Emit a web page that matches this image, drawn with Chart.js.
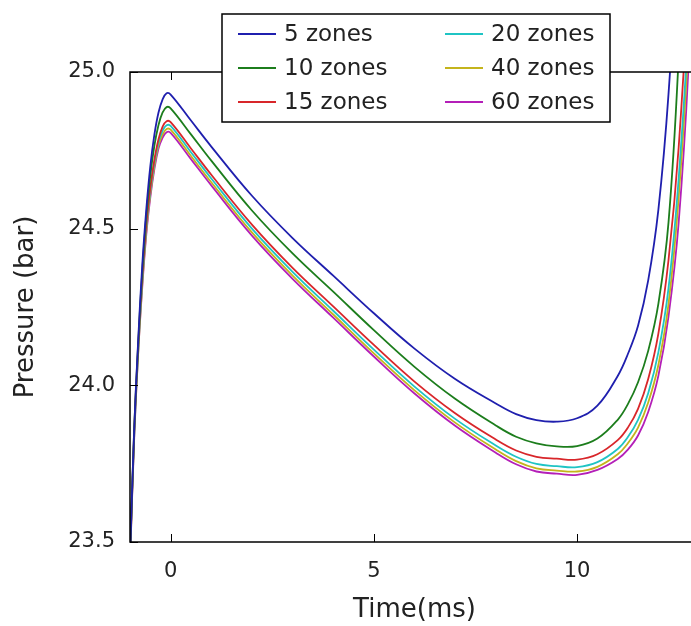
<!DOCTYPE html>
<html>
<head>
<meta charset="utf-8">
<script src="https://cdn.jsdelivr.net/npm/chart.js@4.4.1/dist/chart.umd.min.js"></script>
<style>
  html, body { margin: 0; padding: 0; background: #fff; overflow: hidden; }
  #myChart { display: block; }
</style>
</head>
<body>
<canvas id="myChart" width="700" height="626"></canvas>
<script>
// time in ms, shared by all series
const times = [-1, -0.9, -0.8, -0.7, -0.6, -0.5, -0.4, -0.3, -0.2, -0.1, 0, 0.5, 1, 2, 3, 4, 5, 6, 7, 8, 8.5, 9, 9.5, 10, 10.5, 11, 11.25, 11.5, 11.75, 12, 12.25, 12.5, 12.75, 13];

const zones5  = [23.45, 23.85, 24.14, 24.38, 24.56, 24.70, 24.80, 24.87, 24.912, 24.932, 24.928, 24.845, 24.762, 24.605, 24.47, 24.35, 24.23, 24.117, 24.02, 23.942, 23.908, 23.889, 23.884, 23.895, 23.935, 24.03, 24.10, 24.19, 24.335, 24.56, 24.93, 25.5, 26.4, 27.8];
const zones10 = [23.45, 23.85, 24.13, 24.36, 24.54, 24.67, 24.765, 24.83, 24.87, 24.888, 24.884, 24.801, 24.717, 24.558, 24.421, 24.299, 24.176, 24.059, 23.957, 23.872, 23.836, 23.815, 23.805, 23.806, 23.83, 23.89, 23.94, 24.01, 24.11, 24.26, 24.52, 25.05, 25.9, 27.2];
const zones15 = [23.44, 23.84, 24.12, 24.34, 24.51, 24.63, 24.72, 24.785, 24.825, 24.843, 24.84, 24.756, 24.672, 24.513, 24.375, 24.252, 24.129, 24.012, 23.911, 23.827, 23.792, 23.772, 23.766, 23.763, 23.78, 23.825, 23.865, 23.925, 24.02, 24.165, 24.40, 24.76, 25.32, 26.2];
const zones20 = [23.44, 23.83, 24.11, 24.33, 24.50, 24.62, 24.71, 24.775, 24.812, 24.83, 24.828, 24.744, 24.660, 24.500, 24.362, 24.238, 24.114, 23.996, 23.893, 23.808, 23.772, 23.749, 23.742, 23.739, 23.755, 23.797, 23.835, 23.89, 23.975, 24.105, 24.31, 24.66, 25.18, 26.0];
const zones40 = [23.43, 23.83, 24.10, 24.32, 24.49, 24.61, 24.70, 24.765, 24.80, 24.818, 24.816, 24.732, 24.648, 24.488, 24.350, 24.226, 24.102, 23.984, 23.881, 23.795, 23.758, 23.735, 23.728, 23.725, 23.74, 23.78, 23.815, 23.865, 23.945, 24.065, 24.26, 24.60, 25.12, 25.95];
const zones60 = [23.43, 23.82, 24.10, 24.31, 24.48, 24.60, 24.69, 24.755, 24.79, 24.808, 24.806, 24.722, 24.638, 24.478, 24.340, 24.216, 24.092, 23.974, 23.871, 23.785, 23.748, 23.725, 23.718, 23.714, 23.73, 23.765, 23.795, 23.84, 23.915, 24.03, 24.22, 24.52, 25.04, 25.9];

const labels = ["5 zones", "10 zones", "15 zones", "20 zones", "40 zones", "60 zones"];
const colors = ["#1f1fae", "#1c7d1c", "#d8262a", "#1fc4c4", "#c4b41c", "#b41fb8"];
const xTicks = [0, 5, 10];
const yTicks = [23.5, 24.0, 24.5, 25.0];

const series = [zones5, zones10, zones15, zones20, zones40, zones60];
const FONT = "'DejaVu Sans', sans-serif";

// frame, inward ticks (matplotlib classic look) and the legend box
const framePlugin = {
    id: "frame",
    afterDatasetsDraw(chart) {
        const ctx = chart.ctx;
        const a = chart.chartArea;
        const xs = chart.scales.x, ys = chart.scales.y;
        ctx.save();
        ctx.strokeStyle = "#000";
        ctx.lineWidth = 1.5;
        ctx.strokeRect(a.left, a.top, a.right - a.left, a.bottom - a.top);
        ctx.lineWidth = 1;
        ctx.beginPath();
        xTicks.forEach(function(v){
            const px = Math.round(xs.getPixelForValue(v)) + 0.5;
            ctx.moveTo(px, a.bottom); ctx.lineTo(px, a.bottom - 8);
            ctx.moveTo(px, a.top); ctx.lineTo(px, a.top + 8);
        });
        yTicks.forEach(function(v){
            const py = Math.round(ys.getPixelForValue(v)) + 0.5;
            ctx.moveTo(a.left, py); ctx.lineTo(a.left + 8, py);
            ctx.moveTo(a.right, py); ctx.lineTo(a.right - 8, py);
        });
        ctx.stroke();
        ctx.restore();
    },
    afterDraw(chart) {
        const ctx = chart.ctx;
        const box = {left: 222, top: 14, width: 388, height: 108};
        ctx.save();
        ctx.fillStyle = "#fff";
        ctx.fillRect(box.left, box.top, box.width, box.height);
        ctx.strokeStyle = "#000";
        ctx.lineWidth = 1.5;
        ctx.strokeRect(box.left, box.top, box.width, box.height);
        ctx.font = "23px " + FONT;
        ctx.textBaseline = "middle";
        ctx.textAlign = "left";
        const colX = [238, 445];
        const rowY = [34, 68, 102];
        chart.data.datasets.forEach(function(ds, i){
            const cx = colX[Math.floor(i / 3)];
            const cy = rowY[i % 3];
            ctx.strokeStyle = ds.borderColor;
            ctx.lineWidth = 2;
            ctx.beginPath();
            ctx.moveTo(cx, cy); ctx.lineTo(cx + 38, cy);
            ctx.stroke();
            ctx.fillStyle = "#222";
            ctx.fillText(ds.label, cx + 46, cy + 1);
        });
        ctx.restore();
    }
};

const canvasElement = document.getElementById("myChart");

const config = {
    type: "line",
    data: {
        datasets: series.map(function(vals, i){
            return {
                label: labels[i],
                data: times.map(function(t, j){ return {x: t, y: vals[j]}; }),
                borderColor: colors[i],
                backgroundColor: colors[i],
                borderWidth: 1.8,
                pointRadius: 0,
                fill: false,
                tension: 0.4,
            };
        }),
    },
    options: {
        responsive: false,
        animation: false,
        layout: { padding: { top: 72, right: 1, left: 0, bottom: 0 } },
        plugins: {
            legend: { display: false },
            tooltip: { enabled: false },
        },
        scales: {
            x: {
                type: "linear",
                min: -1,
                max: 13,
                afterBuildTicks: function(scale){ scale.ticks = xTicks.map(function(v){ return {value: v}; }); },
                afterFit: function(scale){ scale.height = 84; },
                grid: { display: false },
                border: { display: false },
                ticks: { color: "#222", font: { family: FONT, size: 21 }, padding: 9,
                         callback: function(v){ return String(v); } },
                title: { display: true, text: "Time(ms)", color: "#222",
                         font: { family: FONT, size: 26 }, padding: { top: 0, bottom: 0 } },
            },
            y: {
                min: 23.5,
                max: 25,
                afterBuildTicks: function(scale){ scale.ticks = yTicks.map(function(v){ return {value: v}; }); },
                afterFit: function(scale){ scale.width = 130; },
                grid: { display: false },
                border: { display: false },
                ticks: { color: "#222", font: { family: FONT, size: 21 }, padding: 7,
                         callback: function(v){ return Number(v).toFixed(1); } },
                title: { display: true, text: "Pressure (bar)", color: "#222",
                         font: { family: FONT, size: 26 }, padding: { top: 11, bottom: 0 } },
            },
        },
    },
    plugins: [framePlugin],
};

const myChart = new Chart(canvasElement, config);
</script>
</body>
</html>
